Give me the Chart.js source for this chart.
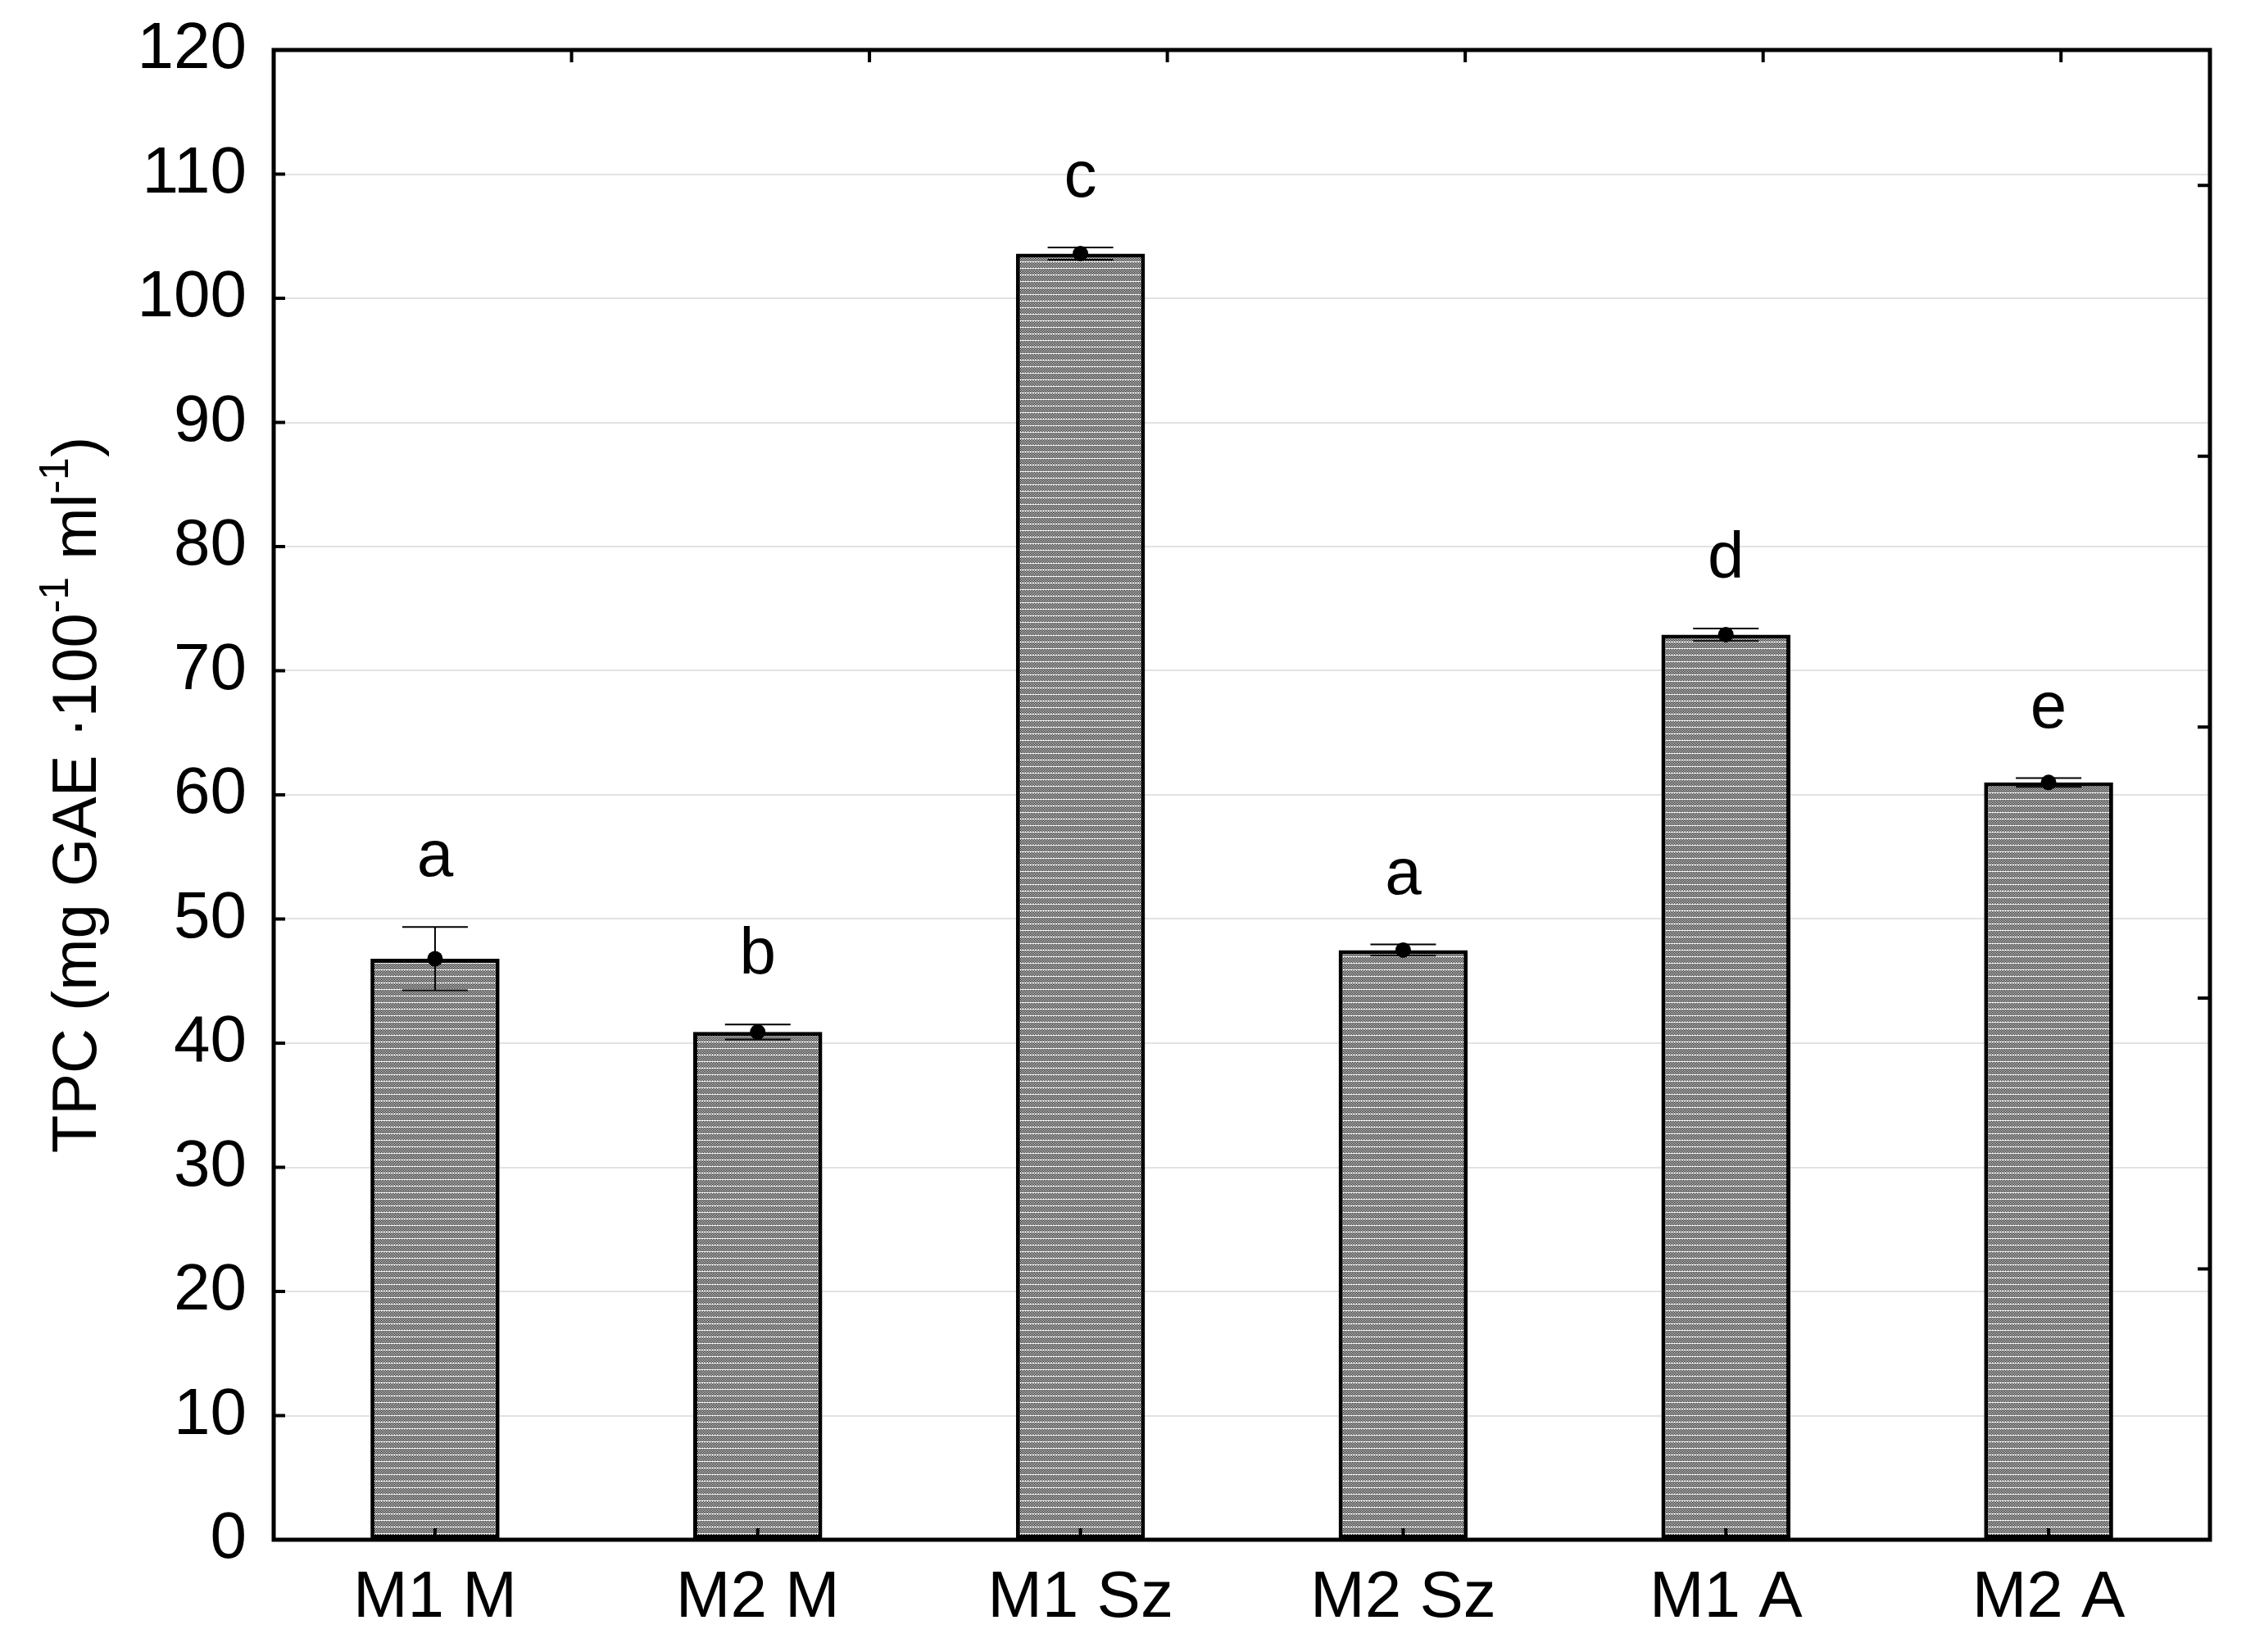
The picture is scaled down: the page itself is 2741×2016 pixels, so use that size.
<!DOCTYPE html>
<html>
<head>
<meta charset="utf-8">
<script src="https://cdn.jsdelivr.net/npm/chart.js@4.4.1/dist/chart.umd.min.js"></script>
<style>
html,body{margin:0;padding:0;background:#ffffff;}
#wrap{width:2741px;height:2016px;position:relative;}
</style>
</head>
<body>
<div id="wrap"><canvas id="c" width="2741" height="2016"></canvas></div>
<script>
// ---- data ----
const categories = ['M1 M', 'M2 M', 'M1 Sz', 'M2 Sz', 'M1 A', 'M2 A'];
const means = [46.8, 40.9, 103.6, 47.5, 72.9, 61.0];
const errors = [2.55, 0.6, 0.5, 0.45, 0.5, 0.35];
const letters = ['a', 'b', 'c', 'a', 'd', 'e'];
const yMin = 0, yMax = 120, yStep = 10;
const titleParts = [
  ['TPC (mg GAE \u00B7100', false],
  ['-1', true],
  [' ml', false],
  ['-1', true],
  [')', false]
];

// ---- styling ----
const FONT = '"Liberation Sans", Arial, sans-serif';
const FS = 80;
const TOP = 61, BOTTOM = 1879, LEFT = 334, RIGHT = 2697;

function makePattern() {
  const pc = document.createElement('canvas');
  pc.width = 2; pc.height = 8;
  const g = pc.getContext('2d');
  g.fillStyle = '#ffffff';
  g.fillRect(0, 0, 2, 8);
  g.fillStyle = '#000000';
  for (let y = 0; y < 7; y++) g.fillRect(y % 2, y, 1, 1);
  return document.getElementById('c').getContext('2d').createPattern(pc, 'repeat');
}

const decorPlugin = {
  id: 'decor',
  afterDatasetsDraw(chart) {
    const ctx = chart.ctx;
    const xs = chart.scales.x, ys = chart.scales.y;
    const ca = chart.chartArea;
    ctx.save();
    for (let i = 0; i < means.length; i++) {
      const cx = xs.getPixelForValue(i);
      const yTop = ys.getPixelForValue(means[i] + errors[i]);
      const yBot = ys.getPixelForValue(means[i] - errors[i]);
      const yMean = ys.getPixelForValue(means[i]);
      ctx.strokeStyle = '#000';
      ctx.lineWidth = 2;
      ctx.beginPath();
      ctx.moveTo(cx, yTop); ctx.lineTo(cx, yBot);
      ctx.moveTo(cx - 40, yTop); ctx.lineTo(cx + 40, yTop);
      ctx.moveTo(cx - 40, yBot); ctx.lineTo(cx + 40, yBot);
      ctx.stroke();
      ctx.fillStyle = '#000';
      ctx.beginPath();
      ctx.arc(cx, yMean, 9.5, 0, Math.PI * 2);
      ctx.fill();
      ctx.font = FS + 'px ' + FONT;
      ctx.textAlign = 'center';
      ctx.textBaseline = 'alphabetic';
      ctx.fillText(letters[i], cx, yTop - 62);
    }
    ctx.strokeStyle = '#000';
    ctx.lineWidth = 5;
    ctx.strokeRect(ca.left, ca.top, ca.right - ca.left, ca.bottom - ca.top);
    ctx.lineWidth = 4;
    ctx.beginPath();
    ys.ticks.forEach(t => {
      const p = ys.getPixelForValue(t.value);
      ctx.moveTo(ca.left, p); ctx.lineTo(ca.left + 14, p);
    });
    for (let i = 0; i < categories.length; i++) {
      const p = xs.getPixelForValue(i);
      ctx.moveTo(p, ca.bottom); ctx.lineTo(p, ca.bottom - 14);
    }
    const x2 = chart.scales.x2, y2 = chart.scales.y2;
    x2.ticks.forEach(t => {
      const p = x2.getPixelForValue(t.value);
      if (p <= ca.left + 2 || p >= ca.right - 2) return;
      ctx.moveTo(p, ca.top); ctx.lineTo(p, ca.top + 15);
    });
    y2.ticks.forEach(t => {
      const p = y2.getPixelForValue(t.value);
      if (p <= ca.top + 2 || p >= ca.bottom - 2) return;
      ctx.moveTo(ca.right, p); ctx.lineTo(ca.right - 15, p);
    });
    ctx.stroke();
    ctx.restore();
  },
  afterDraw(chart) {
    const ctx = chart.ctx;
    const ca = chart.chartArea;
    const fs = 76, ss = 50, rise = 34;
    ctx.save();
    ctx.translate(117, (ca.top + ca.bottom) / 2);
    ctx.rotate(-Math.PI / 2);
    ctx.fillStyle = '#000';
    ctx.textBaseline = 'alphabetic';
    ctx.textAlign = 'left';
    let total = 0;
    const widths = titleParts.map(([t, sup]) => {
      ctx.font = (sup ? ss : fs) + 'px ' + FONT;
      const w = ctx.measureText(t).width;
      total += w;
      return w;
    });
    let x = -total / 2;
    titleParts.forEach(([t, sup], i) => {
      ctx.font = (sup ? ss : fs) + 'px ' + FONT;
      ctx.fillText(t, x, sup ? -rise : 0);
      x += widths[i];
    });
    ctx.restore();
  }
};

Chart.defaults.font.family = FONT;
Chart.defaults.color = '#000';

function clearPad(s) { s.paddingTop = 0; s.paddingBottom = 0; s.paddingLeft = 0; s.paddingRight = 0; }

new Chart(document.getElementById('c'), {
  type: 'bar',
  data: {
    labels: categories,
    datasets: [{
      data: means,
      backgroundColor: makePattern(),
      borderColor: '#000',
      borderWidth: 5,
      borderSkipped: false,
      barPercentage: 0.4,
      categoryPercentage: 1.0
    }]
  },
  options: {
    responsive: false,
    devicePixelRatio: 1,
    animation: false,
    layout: { padding: { top: 0, right: 0, left: 0, bottom: 0 } },
    plugins: { legend: { display: false }, tooltip: { enabled: false }, title: { display: false } },
    scales: {
      x: {
        type: 'category',
        offset: true,
        grid: { display: false, drawTicks: false },
        border: { display: false },
        ticks: { font: { size: FS }, padding: 24, color: '#000', maxRotation: 0 },
        afterFit(s) { s.height = 2016 - BOTTOM; clearPad(s); }
      },
      y: {
        type: 'linear',
        min: yMin, max: yMax,
        ticks: { stepSize: yStep, font: { size: FS }, padding: 33, color: '#000' },
        grid: { color: '#e2e2e2', lineWidth: 2, drawTicks: false },
        border: { display: false },
        afterFit(s) { s.width = LEFT; clearPad(s); }
      },
      x2: {
        type: 'linear', position: 'top', min: 0, max: 6.5, offset: false,
        ticks: { stepSize: 1, display: false, autoSkip: false },
        grid: { display: false, drawTicks: false, offset: false },
        border: { display: false },
        afterFit(s) { s.height = TOP; clearPad(s); }
      },
      y2: {
        type: 'linear', position: 'right', min: 0, max: 5.5, offset: false,
        ticks: { stepSize: 1, display: false, autoSkip: false },
        grid: { display: false, drawTicks: false, offset: false },
        border: { display: false },
        afterFit(s) { s.width = 2741 - RIGHT; clearPad(s); }
      }
    }
  },
  plugins: [decorPlugin]
});
</script>
</body>
</html>
